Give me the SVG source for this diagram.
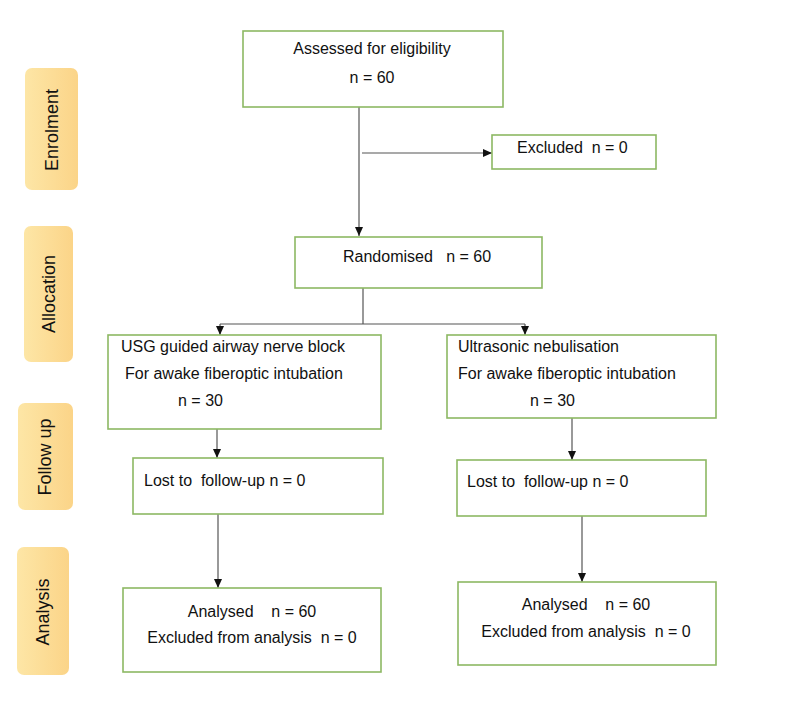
<svg xmlns="http://www.w3.org/2000/svg" width="800" height="724" viewBox="0 0 800 724">
<defs>
<linearGradient id="lab" x1="0" y1="0" x2="1" y2="0">
<stop offset="0" stop-color="#FDE6A6"/>
<stop offset="1" stop-color="#FBD488"/>
</linearGradient>
<marker id="ah" markerWidth="10" markerHeight="10" refX="9" refY="5" orient="auto" markerUnits="userSpaceOnUse">
<path d="M0,1 L9,5 L0,9 Z" fill="#111"/>
</marker>
<style>
.box{fill:#fff;stroke:#8DB863;stroke-width:1.6}
.lab{fill:url(#lab);stroke:none}
.t{font-family:"Liberation Sans",Arial,sans-serif;font-size:16px;fill:#111}
.lt{font-family:"Liberation Sans",Arial,sans-serif;font-size:18px;fill:#111;text-anchor:middle}
.c{text-anchor:middle}
.ln{fill:none;stroke:#555;stroke-width:1.2}
</style>
</defs>
<rect width="800" height="724" fill="#fff"/>
<g id="label-enrolment">
<rect class="lab" x="25" y="68" width="53" height="122" rx="7"/>
<text class="lt" transform="translate(52,130) rotate(-90)" dy="6">Enrolment</text>
</g>
<g id="label-allocation">
<rect class="lab" x="24" y="226" width="49" height="136" rx="7"/>
<text class="lt" transform="translate(49,294) rotate(-90)" dy="6">Allocation</text>
</g>
<g id="label-followup">
<rect class="lab" x="18" y="403" width="55" height="107" rx="7"/>
<text class="lt" transform="translate(45,457) rotate(-90)" dy="6">Follow up</text>
</g>
<g id="label-analysis">
<rect class="lab" x="17" y="547" width="52" height="128" rx="7"/>
<text class="lt" transform="translate(43,612) rotate(-90)" dy="6">Analysis</text>
</g>
<g id="connectors">
<path class="ln" d="M359,107 V236" marker-end="url(#ah)"/>
<path class="ln" d="M362,153 H492" marker-end="url(#ah)"/>
<path class="ln" d="M363,288 V324"/>
<path class="ln" d="M220,324 H525"/>
<path class="ln" d="M220,324 V335" marker-end="url(#ah)"/>
<path class="ln" d="M525,324 V335" marker-end="url(#ah)"/>
<path class="ln" d="M217,429 V458" marker-end="url(#ah)"/>
<path class="ln" d="M572,418 V460" marker-end="url(#ah)"/>
<path class="ln" d="M218,514 V588" marker-end="url(#ah)"/>
<path class="ln" d="M582,516 V582" marker-end="url(#ah)"/>
</g>
<g id="assessed">
<rect class="box" x="243" y="31" width="260" height="76"/>
<text class="t c" x="372" y="54">Assessed for eligibility</text>
<text class="t c" x="372" y="83">n = 60</text>
</g>
<g id="excluded">
<rect class="box" x="492" y="135" width="164" height="34"/>
<text class="t" x="517" y="153" xml:space="preserve">Excluded  n = 0</text>
</g>
<g id="randomised">
<rect class="box" x="295" y="237" width="247" height="51"/>
<text class="t" x="343" y="262" xml:space="preserve">Randomised   n = 60</text>
</g>
<g id="usg">
<rect class="box" x="108" y="335" width="273" height="94"/>
<text class="t" x="121" y="352">USG guided airway nerve block</text>
<text class="t" x="125" y="379">For awake fiberoptic intubation</text>
<text class="t" x="178" y="406">n = 30</text>
</g>
<g id="nebulisation">
<rect class="box" x="447" y="335" width="269" height="83"/>
<text class="t" x="458" y="352">Ultrasonic nebulisation</text>
<text class="t" x="458" y="379">For awake fiberoptic intubation</text>
<text class="t" x="530" y="406">n = 30</text>
</g>
<g id="lost-left">
<rect class="box" x="133" y="458" width="250" height="56"/>
<text class="t" x="144" y="486" xml:space="preserve">Lost to  follow-up n = 0</text>
</g>
<g id="lost-right">
<rect class="box" x="457" y="460" width="249" height="56"/>
<text class="t" x="467" y="487" xml:space="preserve">Lost to  follow-up n = 0</text>
</g>
<g id="analysed-left">
<rect class="box" x="123" y="588" width="258" height="84"/>
<text class="t c" x="252" y="617" xml:space="preserve">Analysed    n = 60</text>
<text class="t c" x="252" y="643" xml:space="preserve">Excluded from analysis  n = 0</text>
</g>
<g id="analysed-right">
<rect class="box" x="458" y="582" width="258" height="83"/>
<text class="t c" x="586" y="610" xml:space="preserve">Analysed    n = 60</text>
<text class="t c" x="586" y="637" xml:space="preserve">Excluded from analysis  n = 0</text>
</g>
</svg>
